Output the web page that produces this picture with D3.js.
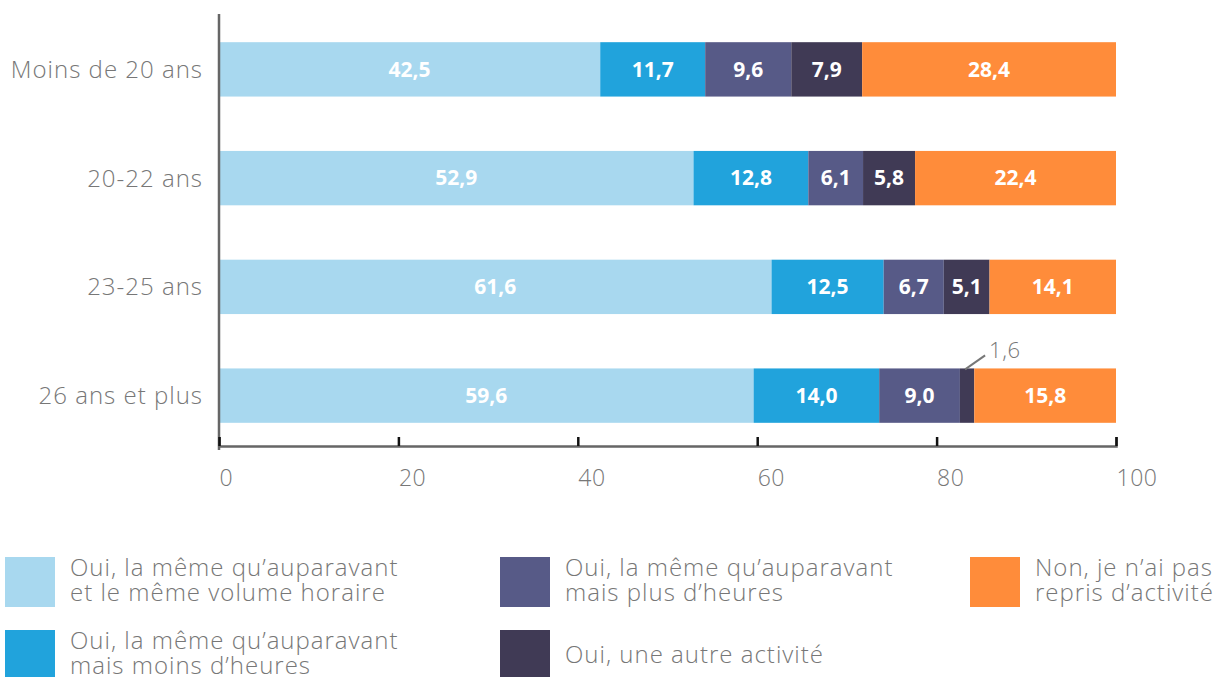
<!DOCTYPE html>
<html>
<head>
<meta charset="utf-8">
<script src="https://cdn.jsdelivr.net/npm/d3@7"></script>
<style>
  body { margin: 0; background: #fff; }
  text { font-family: "Open Sans", "Noto Sans", sans-serif; }
</style>
</head>
<body>
<div id="chart"></div>
<script>
var categories = ["Moins de 20 ans", "20-22 ans", "23-25 ans", "26 ans et plus"];
var seriesNames = [
  "Oui, la même qu’auparavant\net le même volume horaire",
  "Oui, la même qu’auparavant\nmais moins d’heures",
  "Oui, la même qu’auparavant\nmais plus d’heures",
  "Oui, une autre activité",
  "Non, je n’ai pas\nrepris d’activité"
];
var memeVolume = [42.5, 52.9, 61.6, 59.6];
var moinsHeures = [11.7, 12.8, 12.5, 14.0];
var plusHeures = [9.6, 6.1, 6.7, 9.0];
var autreActivite = [7.9, 5.8, 5.1, 1.6];
var nonRepris = [28.4, 22.4, 14.1, 15.8];
var xTicks = [0, 20, 40, 60, 80, 100];
var colors = ["#a8d8ef", "#21a3dc", "#575a87", "#403a55", "#ff8c3a"];

var width = 1221, height = 677;
var series = [memeVolume, moinsHeures, plusHeures, autreActivite, nonRepris];

var svg = d3.select("#chart").append("svg")
    .attr("width", width).attr("height", height);

var x = d3.scaleLinear().domain([0, 100]).range([219, 1116]);
var y = d3.scaleBand().domain(categories).range([15, 450]).paddingInner(0.5).paddingOuter(0.25);

// stacked rows
var rows = categories.map(function(c, i) {
  var acc = 0;
  return series.map(function(s, k) {
    var seg = {cat: c, k: k, v: s[i], x0: acc, x1: acc + s[i]};
    acc += s[i];
    return seg;
  });
});

var g = svg.append("g");
rows.forEach(function(row) {
  g.selectAll(null).data(row).enter().append("rect")
    .attr("x", function(d) { return x(d.x0); })
    .attr("width", function(d) { return x(Math.min(d.x1, 100)) - x(d.x0); })
    .attr("y", function(d) { return y(d.cat); })
    .attr("height", y.bandwidth())
    .attr("fill", function(d) { return colors[d.k]; });

  g.selectAll(null).data(row.filter(function(d) { return d.v >= 3; })).enter().append("text")
    .attr("x", function(d) { return (x(d.x0) + x(Math.min(d.x1, 100))) / 2; })
    .attr("y", function(d) { return y(d.cat) + y.bandwidth() / 2; })
    .attr("dy", "0.35em")
    .attr("text-anchor", "middle")
    .attr("fill", "#fff")
    .style("font-size", "21px")
    .style("font-weight", 700)
    .text(function(d) { return d3.format(".1f")(d.v).replace(".", ","); });
});

// small value callout
var small = rows[3][3];
var sx = (x(small.x0) + x(small.x1)) / 2;
var sy = y(small.cat);
svg.append("line")
  .attr("x1", sx - 2).attr("y1", sy + 1)
  .attr("x2", sx + 18).attr("y2", sy - 13)
  .attr("stroke", "#777").attr("stroke-width", 2);
svg.append("text")
  .attr("x", sx + 22).attr("y", sy - 10)
  .attr("fill", "#777").style("font-size", "22px").style("font-weight", 300)
  .style("letter-spacing", "0.5px")
  .text(d3.format(".1f")(small.v).replace(".", ","));

// category labels
svg.selectAll(".cat").data(categories).enter().append("text")
  .attr("x", 203)
  .attr("y", function(d) { return y(d) + y.bandwidth() / 2; })
  .attr("dy", "0.35em")
  .attr("text-anchor", "end")
  .attr("fill", "#777")
  .style("font-size", "24px").style("font-weight", 300)
  .style("letter-spacing", "1px")
  .text(function(d) { return d; });

// y axis line
svg.append("line").attr("x1", 219).attr("x2", 219).attr("y1", 14).attr("y2", 450)
  .attr("stroke", "#666").attr("stroke-width", 2.5);

// x axis
var xAxis = d3.axisBottom(x).tickValues(xTicks).tickSize(-9).tickPadding(0).tickFormat(d3.format("d"));
var ax = svg.append("g").attr("transform", "translate(0,446)").call(xAxis);
ax.select(".domain").attr("stroke", "#666").attr("stroke-width", 2.5);
ax.selectAll(".tick line").attr("stroke", "#111").attr("stroke-width", 2.5);
ax.selectAll(".tick text")
  .attr("fill", "#777").attr("x", 0).attr("y", 24)
  .attr("text-anchor", "start")
  .style("font-size", "23px").style("font-weight", 300)
  .style("letter-spacing", "0.5px")
  .style("font-family", "'Open Sans', sans-serif");

// legend
var legendPos = [[5, 557], [5, 630], [500, 557], [500, 630], [970, 557]];
var legend = svg.selectAll(".leg").data(seriesNames).enter().append("g")
  .attr("transform", function(d, i) { return "translate(" + legendPos[i][0] + "," + legendPos[i][1] + ")"; });
legend.append("rect").attr("width", 50).attr("height", 50)
  .attr("fill", function(d, i) { return colors[i]; });
legend.each(function(d) {
  var lines = d.split("\n");
  var t = d3.select(this).append("text")
    .attr("x", 65).attr("fill", "#777")
    .style("font-size", "24px").style("font-weight", 300)
    .style("letter-spacing", "1px");
  var y0 = lines.length === 1 ? 25 : 11;
  lines.forEach(function(l, j) {
    t.append("tspan").attr("x", 65).attr("y", y0 + j * 25).attr("dy", "0.35em").text(l);
  });
});
</script>
</body>
</html>
